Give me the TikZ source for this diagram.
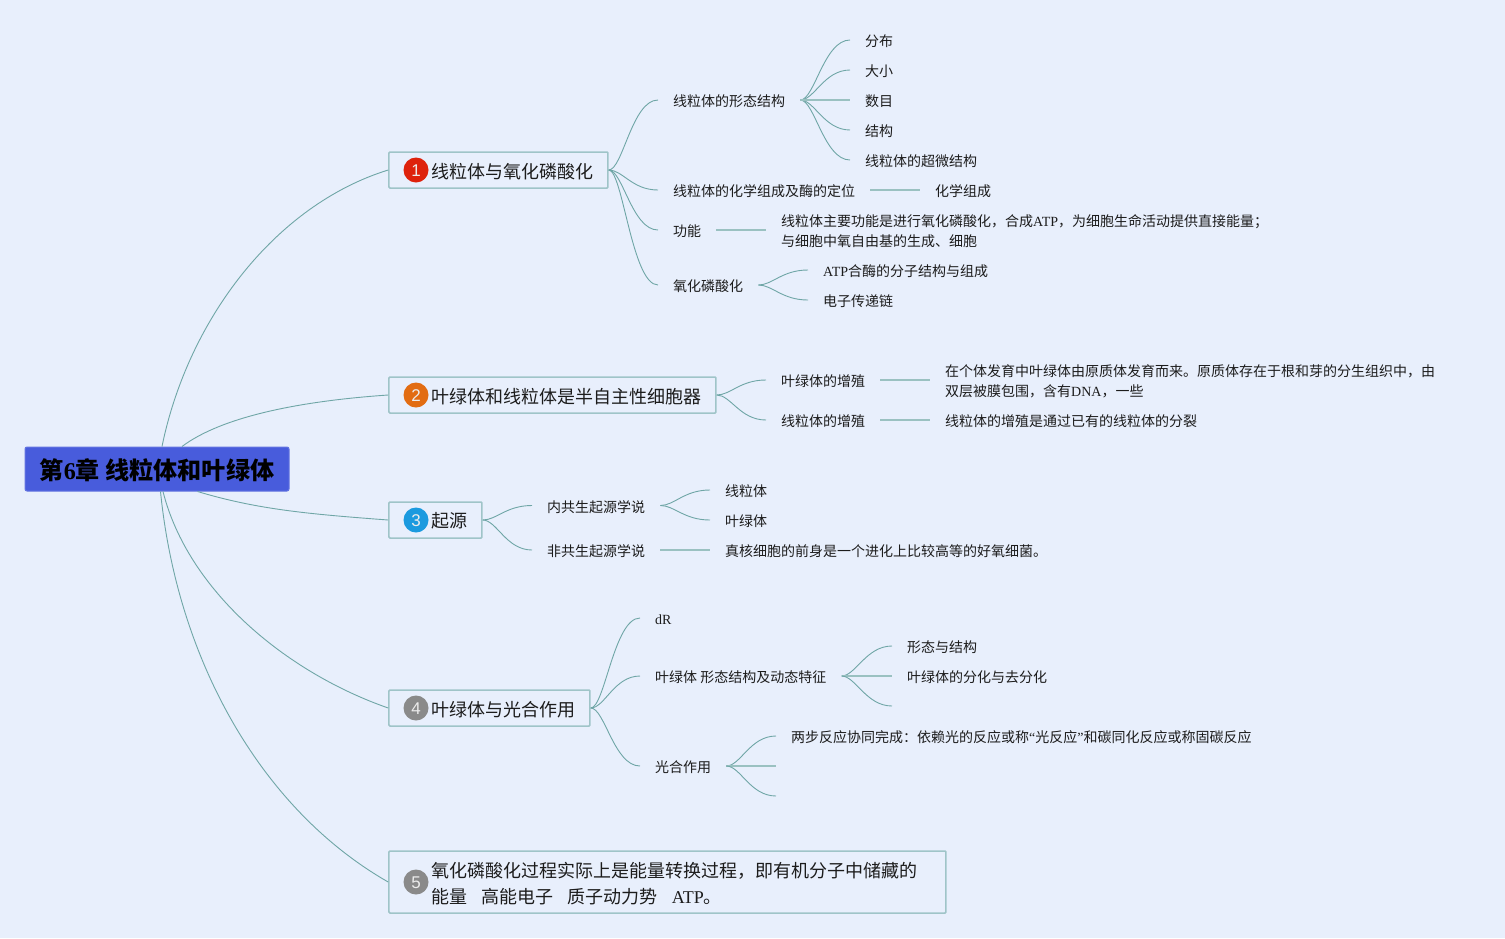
\documentclass[tikz,border=0pt]{standalone}
\usepackage{fontspec}
\setmainfont{Noto Sans CJK SC}
\newfontfamily\lat{Liberation Serif}
\newfontfamily\dig{Liberation Sans}
\definecolor{bgc}{HTML}{E8EFFC}
\definecolor{rootc}{HTML}{485CDC}
\definecolor{edgec}{HTML}{9FC4C8}
\definecolor{linec}{HTML}{6FA6A6}
\definecolor{inkc}{HTML}{1C1C1C}
\definecolor{ic1}{HTML}{DE220C}
\definecolor{ic2}{HTML}{E26C12}
\definecolor{ic3}{HTML}{1B9ADF}
\definecolor{ic4}{HTML}{8A8A8A}
\newcommand{\dn}[1]{\raisebox{-0.6pt}[\dimexpr\height+0.6pt][\dimexpr\depth-0.6pt]{#1}}
\tikzset{
  x=1pt,y=-1pt,
  rootbox/.style={fill=rootc,draw=rootc!85!white,line width=1pt,rounded corners=2pt,minimum width=264pt,minimum height=44pt,inner sep=0pt,font=\fontsize{24.1pt}{28pt}\selectfont\bfseries,text=black},
  topic/.style={draw=edgec,line width=1.5pt,fill=bgc,rounded corners=1pt,anchor=west,inner xsep=15pt,inner ysep=0pt,minimum height=36pt,align=left,font=\fontsize{18pt}{26pt}\selectfont,text=inkc},
  icon/.style={circle,inner sep=0pt,minimum size=25pt,text height=13pt,text depth=0pt,text=white!85!gray,font=\dig\fontsize{17pt}{18pt}\selectfont},
  lbl/.style={anchor=west,inner xsep=15pt,inner ysep=0pt,text height=13.5pt,text depth=0pt,font=\fontsize{14pt}{20pt}\selectfont,text=inkc},
  mlbl/.style={anchor=west,inner xsep=15pt,inner ysep=0pt,align=left,font=\fontsize{14pt}{20pt}\selectfont,text=inkc},
  conn/.style={draw=linec,line width=0.9pt},
  flat/.style={draw=linec!70!white,line width=1.1pt},
}
\newcommand{\cv}[2]{\draw[conn] (#1.east) .. controls +(14,0) and +(-26,0) .. (#2);}
\begin{document}
\begin{tikzpicture}
\useasboundingbox (0,0) rectangle (1505,938);
\fill[bgc] (0,0) rectangle (1505,938);

\node[rootbox] (root) at (157,469) {\dn{第{\lat\bfseries 6}章 线粒体和叶绿体}};

\node[topic,text width=189pt] (t1) at (388.2,170) {\hspace*{27.8pt}\dn{线粒体与氧化磷酸化}};
\node[icon,fill=ic1] (i1) at (416,170) {1};
\node[topic,text width=297pt] (t2) at (388.2,395) {\hspace*{27.8pt}\dn{叶绿体和线粒体是半自主性细胞器}};
\node[icon,fill=ic2] (i2) at (416,395) {2};
\node[topic,text width=63pt] (t3) at (388.2,520) {\hspace*{27.8pt}\dn{起源}};
\node[icon,fill=ic3] (i3) at (416,520) {3};
\node[topic,text width=171pt] (t4) at (388.2,708) {\hspace*{27.8pt}\dn{叶绿体与光合作用}};
\node[icon,fill=ic4] (i4) at (416,708) {4};
\node[topic,text width=527pt,minimum height=62pt] (t5) at (388.2,882) {\hspace*{27.8pt}\dn{氧化磷酸化过程实际上是能量转换过程，即有机分子中储藏的}\\\hspace*{27.8pt}\dn{能量\hspace{14pt}高能电子\hspace{14pt}质子动力势\hspace{14pt}{\lat ATP}。}};
\node[icon,fill=ic4] (i5) at (416,882) {5};

\draw[conn] ([xshift=5pt]root.north) .. controls +(26,-127) and +(-113,35) .. (t1.west);
\draw[conn] ([xshift=25pt]root.north) .. controls +(40,-30) and +(-88,6) .. (t2.west);
\draw[conn] ([xshift=40.5pt]root.south) .. controls +(60,18) and +(-80,-6) .. (t3.west);
\draw[conn] ([xshift=6pt]root.south) .. controls +(25,99) and +(-103,-36) .. (t4.west);
\draw[conn] ([xshift=3.5pt]root.south) .. controls +(17,170) and +(-126,-72) .. (t5.west);

% branch 1
\node[lbl] (a1) at (658,100) {线粒体的形态结构};
\node[lbl] (a2) at (658,190) {线粒体的化学组成及酶的定位};
\node[lbl] (a3) at (658,230) {功能};
\node[lbl] (a4) at (658,285) {氧化磷酸化};
\foreach \n in {a1,a2,a3,a4}{\cv{t1}{\n.west}}
\node[lbl] (a11) at (850,40) {分布};
\node[lbl] (a12) at (850,70) {大小};
\node[lbl] (a13) at (850,100) {数目};
\node[lbl] (a14) at (850,130) {结构};
\node[lbl] (a15) at (850,160) {线粒体的超微结构};
\foreach \n in {a11,a12,a14,a15}{\cv{a1}{\n.west}}
\draw[flat] (a1.east) -- (a13.west);
\node[lbl] (a21) at (920,190) {化学组成};
\draw[flat] (a2.east) -- (a21.west);
\node[mlbl] (a31) at (766,231.3) {线粒体主要功能是进行氧化磷酸化，合成{\lat ATP}，为细胞生命活动提供直接能量；\\与细胞中氧自由基的生成、细胞};
\draw[flat] (a3.east) -- (a31.west |- a3.east);
\node[lbl] (a41) at (808,270) {{\lat ATP}合酶的分子结构与组成};
\node[lbl] (a42) at (808,300) {电子传递链};
\cv{a4}{a41.west}
\cv{a4}{a42.west}

% branch 2
\node[lbl] (b1) at (766,380) {叶绿体的增殖};
\node[lbl] (b2) at (766,420) {线粒体的增殖};
\cv{t2}{b1.west}
\cv{t2}{b2.west}
\node[mlbl] (b11) at (930,381.3) {在个体发育中叶绿体由原质体发育而来。原质体存在于根和芽的分生组织中，由\\双层被膜包围，含有{\lat DNA}，一些};
\draw[flat] (b1.east) -- (b11.west |- b1.east);
\node[lbl] (b21) at (930,420) {线粒体的增殖是通过已有的线粒体的分裂};
\draw[flat] (b2.east) -- (b21.west);

% branch 3
\node[lbl] (c1) at (532,505.5) {内共生起源学说};
\node[lbl] (c2) at (532,550) {非共生起源学说};
\cv{t3}{c1.west}
\cv{t3}{c2.west}
\node[lbl] (c11) at (710,490) {线粒体};
\node[lbl] (c12) at (710,520) {叶绿体};
\cv{c1}{c11.west}
\cv{c1}{c12.west}
\node[lbl] (c21) at (710,550) {真核细胞的前身是一个进化上比较高等的好氧细菌。};
\draw[flat] (c2.east) -- (c21.west);

% branch 4
\node[lbl] (d1) at (640,618) {\lat dR};
\node[lbl] (d2) at (640,676) {叶绿体 形态结构及动态特征};
\node[lbl] (d3) at (640,766) {光合作用};
\foreach \n in {d1,d2,d3}{\cv{t4}{\n.west}}
\node[lbl] (d21) at (892,646) {形态与结构};
\node[lbl] (d22) at (892,676) {叶绿体的分化与去分化};
\coordinate (d23) at (892,706);
\cv{d2}{d21.west}
\draw[flat] (d2.east) -- (d22.west);
\cv{d2}{d23}
\node[lbl] (d31) at (776,736) {两步反应协同完成：依赖光的反应或称{\lat “}光反应{\lat ”}和碳同化反应或称固碳反应};
\coordinate (d32) at (776,766);
\coordinate (d33) at (776,796);
\cv{d3}{d31.west}
\draw[flat] (d3.east) -- (d32);
\cv{d3}{d33}
\end{tikzpicture}
\end{document}
